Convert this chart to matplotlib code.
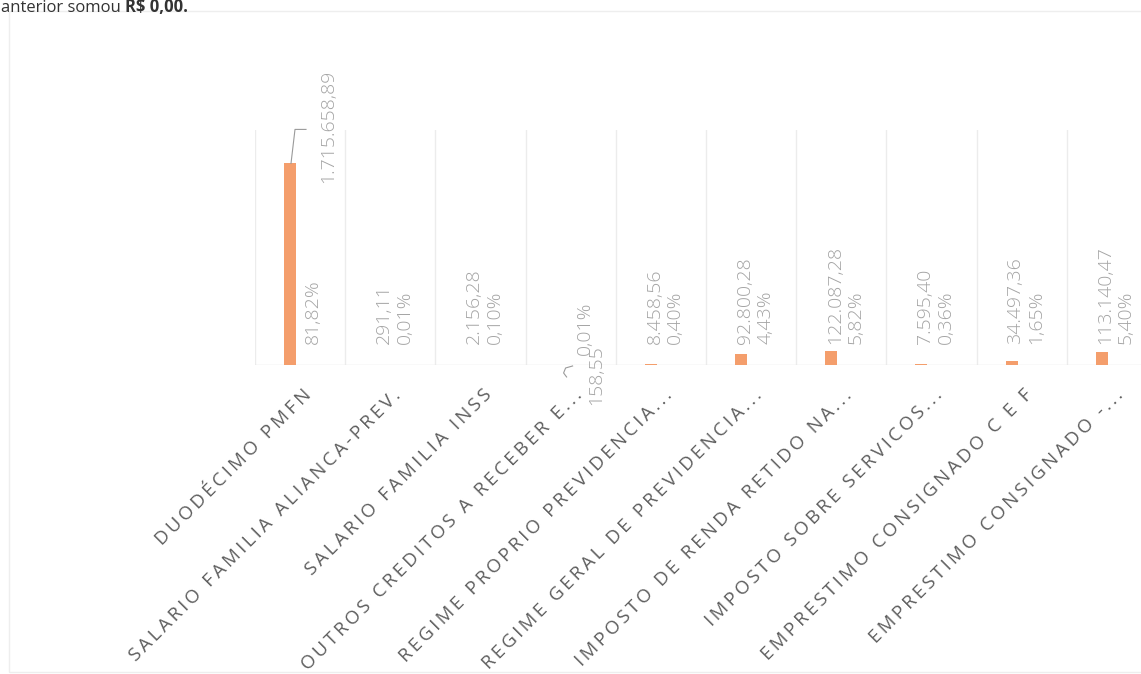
import matplotlib
matplotlib.use("Agg")
import matplotlib.pyplot as plt
from matplotlib.lines import Line2D
from matplotlib.patches import Rectangle
from matplotlib.transforms import IdentityTransform

# ---------------- data ----------------
categories = [
    "DUODÉCIMO PMFN",
    "SALARIO FAMILIA ALIANCA-PREV.",
    "SALARIO FAMILIA INSS",
    "OUTROS CREDITOS A RECEBER E...",
    "REGIME PROPRIO PREVIDENCIA...",
    "REGIME GERAL DE PREVIDENCIA...",
    "IMPOSTO DE RENDA RETIDO NA...",
    "IMPOSTO SOBRE SERVICOS...",
    "EMPRESTIMO CONSIGNADO C E F",
    "EMPRESTIMO CONSIGNADO -...",
]
values = [1715658.89, 291.11, 2156.28, 158.55, 8458.56,
          92800.28, 122087.28, 7595.40, 34497.36, 113140.47]
value_labels = ["1.715.658,89", "291,11", "2.156,28", "158,55", "8.458,56",
                "92.800,28", "122.087,28", "7.595,40", "34.497,36", "113.140,47"]
pct_labels = ["81,82%", "0,01%", "0,10%", "0,01%", "0,40%",
              "4,43%", "5,82%", "0,36%", "1,65%", "5,40%"]
header_plain = "anterior somou "
header_bold = "R$ 0,00."

# ---------------- style ----------------
W, H = 1141, 674
BAR = "#F49E6C"
GRID = "#ececec"
LBL = "#a4a4a4"
CAT = "#5e5e5e"
FONT = ["Open Sans", "DejaVu Sans"]

fig = plt.figure(figsize=(W / 100, H / 100), dpi=100)
fig.patch.set_facecolor("white")


def fx(px):
    return px / W


def fy(py):
    return 1 - py / H


# faint outer frame
fig.add_artist(Rectangle((fx(9), fy(672)), fx(1150) - fx(9), fy(11) - fy(672),
                         transform=fig.transFigure, fill=False,
                         edgecolor="#eeeeee", lw=1))

STEP = 90.2          # px per category
OFF = 35 / STEP       # bar offset from category's left boundary
ax = fig.add_axes([fx(255), fy(365), fx(1141) - fx(255), (365 - 130) / H])
ax.set_xlim(-OFF, -OFF + (1141 - 255) / STEP)
ax.set_ylim(0, 2000000)
ax.axis("off")

n = len(values)
pos = list(range(n))
for k in range(n + 1):
    ax.axvline(k - OFF, color=GRID, lw=1, zorder=0)
ax.axhline(0, color="#e2e2e2", lw=1, zorder=1)
ax.bar(pos, values, width=12 / STEP, color=BAR, zorder=2)


def spaced(s):
    return "\u2009".join(s)


# category labels
for i, c in enumerate(categories):
    ax.annotate(spaced(c), xy=(i, 0), xytext=(12, -21), textcoords="offset pixels",
                rotation=45, rotation_mode="anchor", ha="right", va="top",
                fontsize=13.5, color=CAT, family=FONT, annotation_clip=False)

# data labels
common = dict(textcoords="offset pixels", rotation=90, rotation_mode="anchor",
              ha="left", va="center", fontsize=14, color=LBL, family=FONT,
              fontweight="light", annotation_clip=False)
for i in range(n):
    if i == 0:
        ax.annotate(pct_labels[i], xy=(i, 0), xytext=(23, 21), **common)
        ax.annotate(value_labels[i], xy=(i, 0), xytext=(38, 182), **common)
    elif i == 3:
        ax.annotate(pct_labels[i], xy=(i, 0), xytext=(24, 10), **common)
        ax.annotate(value_labels[i], xy=(i, 0), xytext=(36, -40), **common)
    else:
        ax.annotate(value_labels[i] + "\n" + pct_labels[i], xy=(i, 0), xytext=(14, 21),
                    multialignment="left", linespacing=1.18, **common)

# leader lines (display coordinates derived from the data scale)
x0, y0 = ax.transData.transform((0, values[0]))
fig.add_artist(Line2D([x0 + 1, x0 + 5, x0 + 16], [y0, y0 + 34, y0 + 34],
                      transform=IdentityTransform(), color="#9a9a9a", lw=0.8))
x3, y3 = ax.transData.transform((3, values[3]))
fig.add_artist(Line2D([x3 + 12, x3 + 5, x3 + 3, x3 + 6], [y3 - 1, y3 - 3, y3 - 8, y3 - 12],
                      transform=IdentityTransform(), color="#9a9a9a", lw=0.8))

# header text (cut off at the top, as in the scanned page)
t1 = fig.text(fx(1), fy(12), header_plain, fontsize=12, color="#333333",
              va="baseline", ha="left", family=FONT)
fig.canvas.draw()
bb = t1.get_window_extent(fig.canvas.get_renderer())
fig.text(bb.x1 / W, fy(12), header_bold, fontsize=12, color="#333333",
         va="baseline", ha="left", family=FONT, fontweight="bold")

fig.savefig("out.png", dpi=100, facecolor="white")
